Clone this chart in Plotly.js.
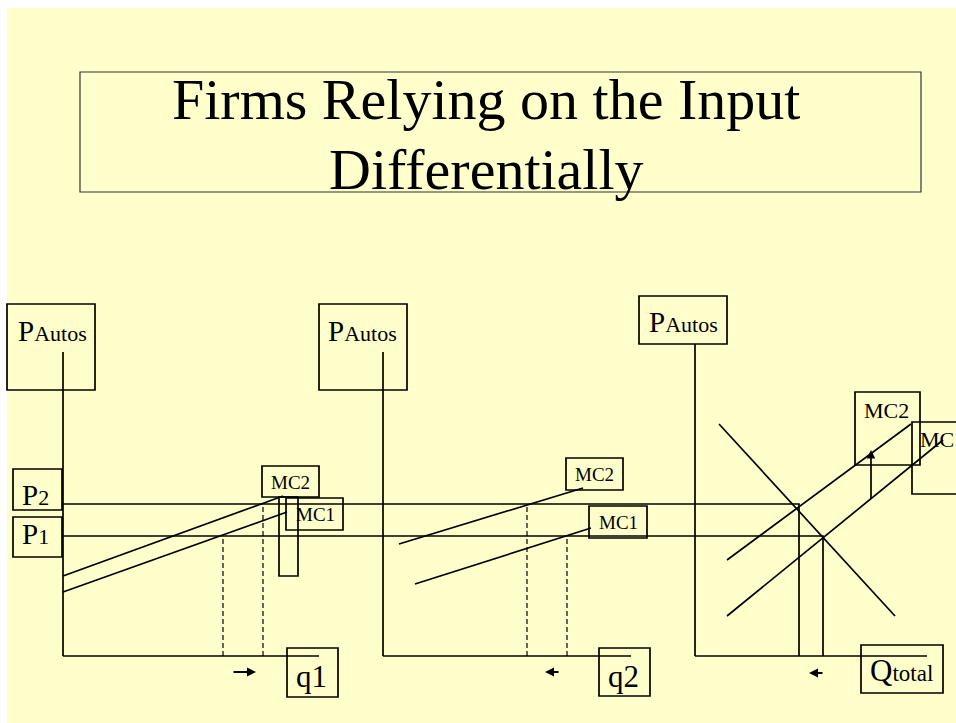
<!DOCTYPE html>
<html>
<head>
<meta charset="utf-8">
<script src="https://cdn.plot.ly/plotly-3.0.1.min.js"></script>
<style>
  html, body { margin: 0; padding: 0; background: #ffffff; }
  #chart { width: 956px; height: 723px; }
</style>
</head>
<body>
<div id="chart"></div>
<script>
// ---------------- DATA (price and quantity units) ----------------
// Common price levels
const priceLevels = [30, 38];            // P1, P2
const priceLabels = ["P1", "P2"];

// Firm 1 (relies heavily on the input)
const f1AxisTopP = 76;
const f1AxisEndQ = 64;
const f1MC1Q = [0, 56];
const f1MC1P = [16, 36];
const f1MC2Q = [0, 55];
const f1MC2P = [20, 40];
const f1Output = [40, 50];               // q1 at P1, q1 at P2

// Firm 2
const f2AxisTopP = 76;
const f2AxisEndQ = 62;
const f2MC1Q = [8, 52];
const f2MC1P = [18, 32];
const f2MC2Q = [4, 50];
const f2MC2P = [28, 42];
const f2Output = [46, 36];               // q2 at P1, q2 at P2

// Market
const mAxisTopP = 78;
const mAxisEndQ = 58;
const mDemandQ = [6, 50];
const mDemandP = [58, 10];
const mMC1Q = [8, 62];
const mMC1P = [10, 54];
const mMC2Q = [8, 54];
const mMC2P = [24, 58];
const mOutput = [32, 26];                // Qtotal at P1, Qtotal at P2
const mShiftQ = 44;
const mShiftP = [39, 51.5];

// Text
const titleLines = ["Firms Relying on the Input", "Differentially"];
const axisLabelBig = "P";
const axisLabelSmall = "Autos";
const qLabels = ["q1", "q2"];
const qTotalBig = "Q";
const qTotalSmall = "total";
const mcLabels = ["MC1", "MC2"];

// ---------------- DRAWING ----------------
const W = 956, H = 723;
const X = px => px / W;
const Y = py => 1 - py / H;
const SERIF = "Liberation Serif, 'Times New Roman', Times, serif";
const INK = "#000000";
const LW = 1.7;

function seg(xs, ys, xa, dash) {
  return {
    type: "scatter", mode: "lines", x: xs, y: ys,
    xaxis: xa, yaxis: "y",
    line: { color: INK, width: dash ? 1.2 : LW, dash: dash || "solid" },
    hoverinfo: "skip", showlegend: false
  };
}

const FAR = 200; // price lines run on across the panels
const DASH = "5px,3px";
const traces = [];
// Firm 1 panel
traces.push(seg([0, 0], [0, f1AxisTopP], "x"));
traces.push(seg([0, f1AxisEndQ], [0, 0], "x"));
traces.push(seg(f1MC2Q, f1MC2P, "x"));
traces.push(seg(f1MC1Q, f1MC1P, "x"));
traces.push(seg([0, FAR], [priceLevels[0], priceLevels[0]], "x"));
traces.push(seg([0, FAR], [priceLevels[1], priceLevels[1]], "x"));
traces.push(seg([f1Output[0], f1Output[0]], [0, priceLevels[0]], "x", DASH));
traces.push(seg([f1Output[1], f1Output[1]], [0, priceLevels[1]], "x", DASH));
// Firm 2 panel
traces.push(seg([0, 0], [0, f2AxisTopP], "x2"));
traces.push(seg([0, f2AxisEndQ], [0, 0], "x2"));
traces.push(seg(f2MC2Q, f2MC2P, "x2"));
traces.push(seg(f2MC1Q, f2MC1P, "x2"));
traces.push(seg([-FAR, FAR], [priceLevels[0], priceLevels[0]], "x2"));
traces.push(seg([-FAR, FAR], [priceLevels[1], priceLevels[1]], "x2"));
traces.push(seg([f2Output[0], f2Output[0]], [0, priceLevels[0]], "x2", DASH));
traces.push(seg([f2Output[1], f2Output[1]], [0, priceLevels[1]], "x2", DASH));
// Market panel
traces.push(seg([0, 0], [0, mAxisTopP], "x3"));
traces.push(seg([0, mAxisEndQ], [0, 0], "x3"));
traces.push(seg(mDemandQ, mDemandP, "x3"));
traces.push(seg(mMC2Q, mMC2P, "x3"));
traces.push(seg(mMC1Q, mMC1P, "x3"));
traces.push(seg([-FAR, mOutput[0], mOutput[0]], [priceLevels[0], priceLevels[0], 0], "x3"));
traces.push(seg([-FAR, mOutput[1], mOutput[1]], [priceLevels[1], priceLevels[1], 0], "x3"));

// boxes (text frames of the slide)
function box(l, t, r, b, color, width) {
  return {
    type: "rect", xref: "paper", yref: "paper",
    x0: X(l), x1: X(r), y0: Y(b), y1: Y(t),
    line: { color: color || INK, width: width || LW },
    fillcolor: "rgba(0,0,0,0)", layer: "above"
  };
}
const shapes = [
  { type: "rect", xref: "paper", yref: "paper", x0: X(7), x1: 1.01, y0: -0.01, y1: Y(8),
    line: { width: 0 }, fillcolor: "#FFFFCC", layer: "below" },
  box(80, 72, 921, 192, "#333333", 1.2),
  box(7, 304, 95, 390), box(319, 304, 407, 390), box(639, 296, 727, 344),
  box(13, 469, 62, 510), box(13, 517, 62, 557),
  box(262, 466, 319, 497), box(286, 498, 343, 530), box(279, 497, 298, 576),
  box(287, 648, 338, 697),
  box(566, 458, 623, 490), box(589, 506, 647, 538),
  box(599, 648, 650, 696),
  box(855, 392, 920, 465), box(912, 422, 975, 494),
  box(861, 645, 943, 693)
];

function label(html, leftPx, baselinePx, size) {
  return {
    xref: "paper", yref: "paper", x: X(leftPx - 1), y: Y(baselinePx + 0.216 * size),
    xanchor: "left", yanchor: "bottom", text: html, showarrow: false,
    font: { family: SERIF, size: size, color: INK }, borderpad: 0, borderwidth: 0
  };
}
function titleLine(txt, baselinePx) {
  return {
    xref: "paper", yref: "paper", x: X(486), y: Y(baselinePx + 0.216 * 58),
    xanchor: "center", yanchor: "bottom", text: txt, showarrow: false,
    font: { family: SERIF, size: 58, color: INK }, borderpad: 0, borderwidth: 0
  };
}
const small = (t, s) => '<span style="font-size:' + s + 'px">' + t + '</span>';
const pAutos = axisLabelBig + small(axisLabelSmall, 22);

function arrow(tipX, tipY, ax, ay) {
  return {
    xref: "paper", yref: "paper", x: X(tipX), y: Y(tipY), ax: ax, ay: ay,
    text: "", showarrow: true, arrowhead: 2, arrowsize: 1, arrowwidth: 1.8, arrowcolor: INK
  };
}

const annotations = [
  titleLine(titleLines[0], 119),
  titleLine(titleLines[1], 189),
  label(pAutos, 19, 341, 29),
  label(pAutos, 329, 341, 29),
  label(pAutos, 650, 332, 29),
  label(priceLabels[1][0] + small(priceLabels[1].slice(1), 22), 23, 505, 29),
  label(priceLabels[0][0] + small(priceLabels[0].slice(1), 22), 23, 544, 29),
  label(mcLabels[1], 272, 489, 19),
  label(mcLabels[0], 297, 521, 19),
  label(mcLabels[1], 576, 481, 19),
  label(mcLabels[0], 600, 529, 19),
  label(mcLabels[1], 865, 418, 22),
  label("MC", 921, 447, 22),
  label(qLabels[0], 297, 687, 31),
  label(qLabels[1], 609, 687, 31),
  label(qTotalBig + small(qTotalSmall, 23), 871, 681, 31),
  arrow(256, 672, -24, 0),
  arrow(545, 672, 15, 0),
  arrow(809, 673, 15, 0),
  {
    xref: "x3", yref: "y", x: mShiftQ, y: mShiftP[1],
    axref: "x3", ayref: "y", ax: mShiftQ, ay: mShiftP[0],
    text: "", showarrow: true, arrowhead: 2, arrowsize: 1, arrowwidth: 1.7, arrowcolor: INK
  }
];

const hidden = { visible: false, fixedrange: true, showgrid: false, zeroline: false };
const layout = {
  width: W, height: H, autosize: false,
  margin: { l: 0, r: 0, t: 0, b: 0, pad: 0 },
  paper_bgcolor: "#ffffff", plot_bgcolor: "rgba(0,0,0,0)",
  showlegend: false,
  xaxis: Object.assign({}, hidden, { domain: [X(55), X(375)], range: [-2, 78], anchor: "y" }),
  xaxis2: Object.assign({}, hidden, { domain: [X(375), X(687)], range: [-2, 76], anchor: "y" }),
  xaxis3: Object.assign({}, hidden, { domain: [X(687), 1], range: [-2, 65.25], anchor: "y" }),
  yaxis: Object.assign({}, hidden, { domain: [0, 1], range: [-16.75, 164], anchor: "x" }),
  shapes: shapes,
  annotations: annotations
};

Plotly.newPlot("chart", traces, layout, { staticPlot: true, displayModeBar: false });
</script>
</body>
</html>
